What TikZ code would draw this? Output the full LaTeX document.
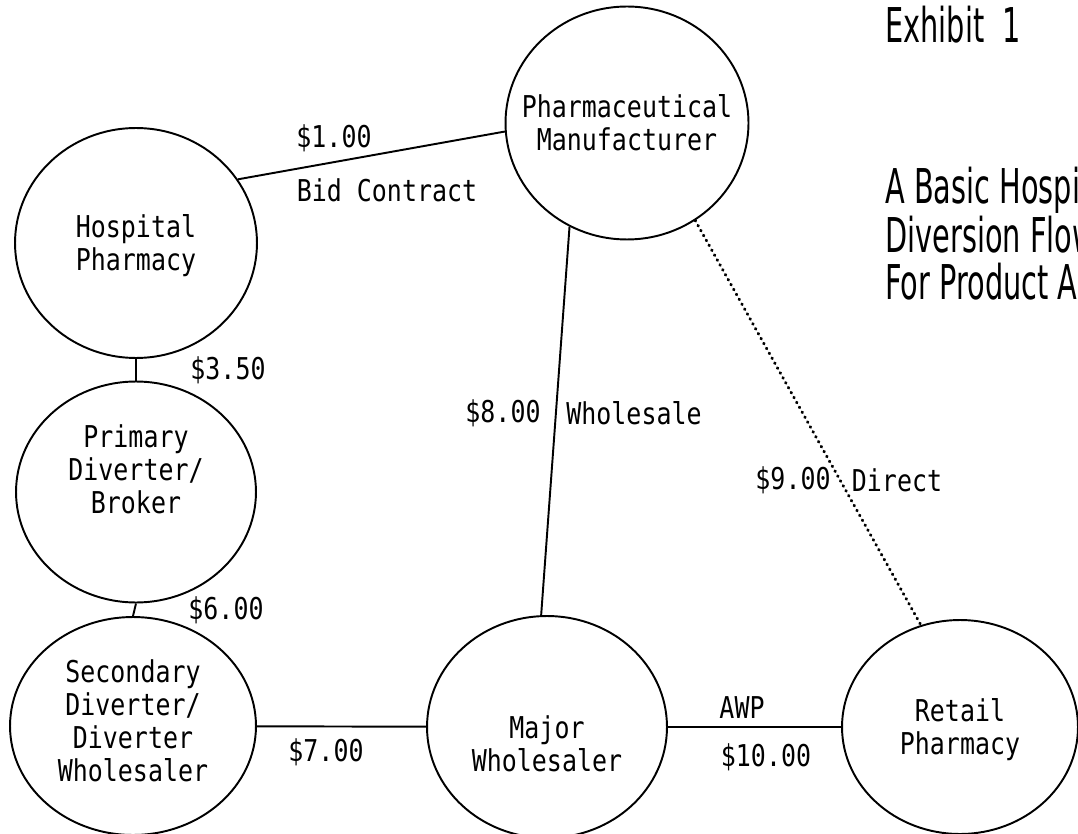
\documentclass[tikz,border=0pt]{standalone}
\usepackage{fontspec}
\usepackage{tikz}
\usetikzlibrary{shapes.geometric,positioning}
\newfontfamily\dotfont[FakeStretch=0.83]{DejaVu Sans Mono}
\newfontfamily\headfont[FakeStretch=0.6]{DejaVu Sans}
\newcommand{\plbl}{\dotfont\fontsize{17.1pt}{18.8pt}\selectfont}
\newcommand{\phead}{\headfont\fontsize{27.3pt}{27.3pt}\selectfont}
\tikzset{
  firm/.style={ellipse,draw=black,line width=1.1pt,inner sep=0pt},
  firmtext/.style={align=center,font=\plbl,inner sep=0pt},
  link/.style={draw=black,line width=1.1pt},
  direct/.style={draw=black,line width=1.7pt,line cap=round,dash pattern=on 0.4pt off 2.8pt},
  price/.style={inner sep=0pt,font=\plbl},
  heading/.style={inner sep=0pt,anchor=west,font=\phead},
}

\begin{document}
\begin{tikzpicture}[x=0.02cm,y=-0.02cm]
  \useasboundingbox (0,0) rectangle (1078,834);
  \clip (0,0) rectangle (1078,834);
  % the six parties
  \node[firm,minimum width=4.84cm,minimum height=4.6cm,
        label={[firmtext,yshift=-0.06cm]center:Hospital\\Pharmacy}] (hosp) at (136,243) {};
  \node[firm,minimum width=4.8cm,minimum height=4.42cm,
        label={[firmtext,yshift=0.46cm]center:Primary\\Diverter/\\Broker}] (prim) at (136,492) {};
  \node[firm,minimum width=4.92cm,minimum height=4.36cm,
        label={[firmtext,yshift=0.1cm]center:Secondary\\Diverter/\\Diverter\\Wholesaler}] (sec) at (133,726) {};
  \node[firm,minimum width=4.86cm,minimum height=4.66cm,
        label={[firmtext]center:Pharmaceutical\\Manufacturer}] (pharm) at (627,123) {};
  \node[firm,minimum width=4.8cm,minimum height=4.44cm,
        label={[firmtext,yshift=-0.34cm]center:Major\\Wholesaler}] (major) at (547,727) {};
  \node[firm,minimum width=4.72cm,minimum height=4.28cm,
        label={[firmtext,yshift=-0.06cm]center:Retail\\Pharmacy}] (retail) at (960,727) {};
  % flows
  \draw[link] (hosp.32) -- (pharm.184);
  \draw[link] (hosp.south) -- (prim.north);
  \draw[link] (prim.south) -- (sec.north);
  \draw[link] (sec) -- (major);
  \draw[link] (major) -- (retail);
  \draw[link] (pharm.241) -- (major.93);
  \draw[direct] (pharm.305) -- (retail.111);
  % prices
  \node[price] (p100) at (334,138) {\$1.00};
  \node[price] (bid) at (387,190) {Bid Contract};
  \node[price] (p350) at (228,370) {\$3.50};
  \node[price] (p600) at (226,610) {\$6.00};
  \node[price] (p700) at (326,752) {\$7.00};
  \node[price] (p800) at (503,413) {\$8.00};
  \node[price] (whole) at (634,413) {Wholesale};
  \node[price] (p900) at (793,480) {\$9.00};
  \node[price] (dir) at (897,480) {Direct};
  \node[price] (awp) at (742,708) {AWP};
  \node[price] (p1000) at (766,757) {\$10.00};
  % heading
  \node[heading] (exh) at (885,25) {Exhibit\ \ 1};
  \node[heading] (ttl1) at (885,190) {A Basic Hospital};
  \node[heading] (ttl2) at (885,235) {Diversion Flow};
  \node[heading] (ttl3) at (885,282) {For Product A};
\end{tikzpicture}
\end{document}
